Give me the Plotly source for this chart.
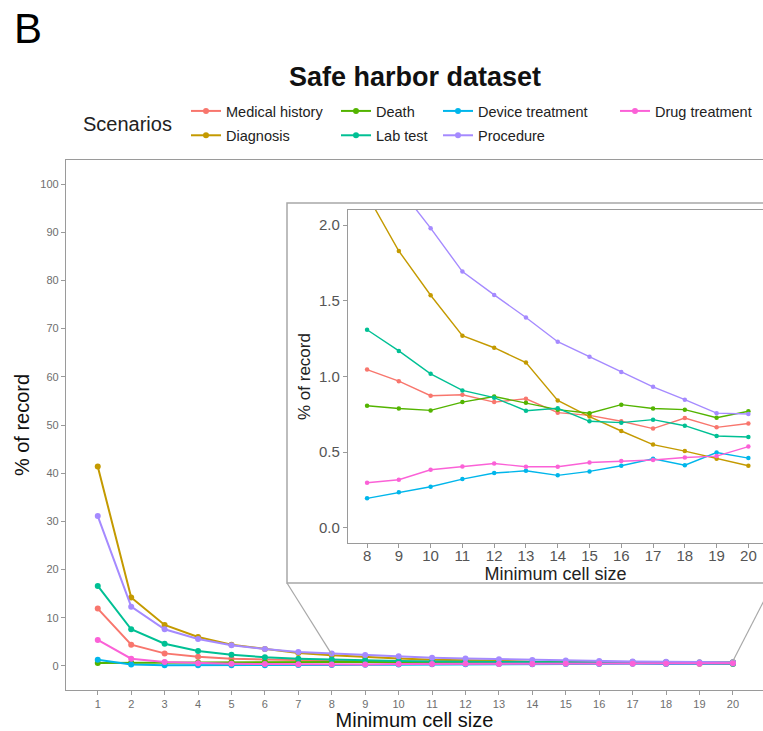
import plotly.graph_objects as go

cell_size = list(range(1, 21))
scenarios = ["Medical history", "Diagnosis", "Death", "Lab test",
             "Device treatment", "Procedure", "Drug treatment"]
colors = ["#F8766D", "#C49A00", "#53B400", "#00C094", "#00B6EB", "#A58AFF", "#FB61D7"]

medical_history = [11.9, 4.4, 2.6, 1.9, 1.5, 1.3, 1.15, 1.046, 0.969, 0.873, 0.879, 0.831,
                   0.853, 0.761, 0.743, 0.704, 0.656, 0.726, 0.664, 0.689]
diagnosis = [41.4, 14.2, 8.5, 6.0, 4.4, 3.5, 2.7, 2.2, 1.829, 1.537, 1.27, 1.19,
             1.092, 0.842, 0.735, 0.64, 0.55, 0.507, 0.456, 0.41]
death = [0.6, 0.65, 0.7, 0.72, 0.75, 0.78, 0.8, 0.807, 0.789, 0.776, 0.831, 0.868,
         0.827, 0.781, 0.757, 0.814, 0.789, 0.781, 0.728, 0.77]
lab_test = [16.6, 7.6, 4.6, 3.1, 2.3, 1.8, 1.5, 1.309, 1.169, 1.018, 0.908, 0.86,
            0.774, 0.79, 0.704, 0.695, 0.715, 0.675, 0.607, 0.60]
device_treatment = [1.3, 0.3, 0.15, 0.12, 0.13, 0.15, 0.17, 0.195, 0.235, 0.272, 0.322, 0.362,
                    0.377, 0.347, 0.373, 0.41, 0.456, 0.414, 0.498, 0.461]
procedure = [31.1, 12.3, 7.6, 5.6, 4.3, 3.5, 2.9, 2.6, 2.25, 1.98, 1.693, 1.539,
             1.39, 1.23, 1.13, 1.029, 0.932, 0.847, 0.758, 0.752]
drug_treatment = [5.4, 1.5, 0.8, 0.55, 0.45, 0.38, 0.33, 0.298, 0.318, 0.384, 0.406, 0.425,
                  0.404, 0.404, 0.432, 0.441, 0.448, 0.465, 0.474, 0.537]

series = [medical_history, diagnosis, death, lab_test, device_treatment, procedure, drug_treatment]
legend_ids = ["legend", "legend", "legend2", "legend2", "legend3", "legend3", "legend4"]

main_y_ticks = list(range(0, 101, 10))
inset_start = 8
inset_y_ticks = [0.0, 0.5, 1.0, 1.5, 2.0]

FONT = "Liberation Sans, Arial, Helvetica, sans-serif"
AXIS_GREY = "#9a9a9a"
TICK_GREY = "#6e6e6e"

W, H = 763, 731
ML, MR, MT, MB = 66, 0, 160, 41
PW, PH = W - ML - MR, H - MT - MB

def px_x(p):
    return (p - ML) / PW

def px_y(p):
    return (H - MB - p) / PH

x_range = [0.05, 20.9]
y_range = [-5, 105]
x2_range = [7.4, 20.46]
y2_range = [-0.1, 2.1]

fig = go.Figure()

for name, vals, col, lg in zip(scenarios, series, colors, legend_ids):
    fig.add_trace(go.Scatter(
        x=cell_size, y=vals, name=name, mode="lines+markers",
        line=dict(color=col, width=2), marker=dict(color=col, size=6),
        legend=lg, legendgroup=name, xaxis="x", yaxis="y"))

for name, vals, col in zip(scenarios, series, colors):
    xs = [c for c in cell_size if c >= inset_start]
    ys = [v for c, v in zip(cell_size, vals) if c >= inset_start]
    fig.add_trace(go.Scatter(
        x=xs, y=ys, name=name, mode="lines+markers", showlegend=False,
        line=dict(color=col, width=1.4), marker=dict(color=col, size=4.5),
        xaxis="x2", yaxis="y2"))

# inset frame and connectors
box_x0, box_x1 = px_x(287), px_x(773)
box_y0, box_y1 = px_y(583), px_y(203)

def data_to_paper_x(v):
    return (v - x_range[0]) / (x_range[1] - x_range[0])

def data_to_paper_y(v):
    return (v - y_range[0]) / (y_range[1] - y_range[0])

shapes = [
    dict(type="rect", xref="paper", yref="paper", x0=box_x0, x1=box_x1, y0=box_y0, y1=box_y1,
         line=dict(color="#a8a8a8", width=1.5), fillcolor="white", layer="below"),
    dict(type="line", xref="paper", yref="paper",
         x0=data_to_paper_x(8), y0=data_to_paper_y(2.4), x1=box_x0, y1=box_y0,
         line=dict(color="#a8a8a8", width=1.2)),
    dict(type="line", xref="paper", yref="paper",
         x0=data_to_paper_x(20), y0=data_to_paper_y(1.0), x1=box_x1, y1=box_y0,
         line=dict(color="#a8a8a8", width=1.2)),
]

legend_common = dict(orientation="v", xanchor="left", yanchor="top", y=px_y(95),
                     bgcolor="rgba(0,0,0,0)", font=dict(family=FONT, size=14.5, color="#222"),
                     tracegroupgap=2.5, itemwidth=30, xref="paper", yref="paper")

fig.update_layout(
    width=W, height=H,
    margin=dict(l=ML, r=MR, t=MT, b=MB),
    paper_bgcolor="white", plot_bgcolor="white",
    font=dict(family=FONT),
    hovermode=False,
    title=dict(text="<b>Safe harbor dataset</b>", x=415 / W, xanchor="center",
               xref="container", yref="container", y=(H - 77) / H, yanchor="middle",
               font=dict(family=FONT, size=27, color="#111")),
    legend=dict(x=px_x(186), **legend_common),
    legend2=dict(x=px_x(336), **legend_common),
    legend3=dict(x=px_x(438), **legend_common),
    legend4=dict(x=px_x(615), **legend_common),
    shapes=shapes,
    xaxis=dict(domain=[0, 1], range=x_range, tickvals=cell_size, showgrid=False, zeroline=False,
               showline=True, linecolor=AXIS_GREY, linewidth=1.2, mirror=True,
               ticks="outside", ticklen=4, tickcolor=AXIS_GREY,
               tickfont=dict(family=FONT, size=11, color=TICK_GREY),
               title=dict(text="Minimum cell size", standoff=4,
                          font=dict(family=FONT, size=20, color="#111"))),
    yaxis=dict(domain=[0, 1], range=y_range, tickvals=main_y_ticks, showgrid=False, zeroline=False,
               showline=True, linecolor=AXIS_GREY, linewidth=1.2,
               ticks="outside", ticklen=4, tickcolor=AXIS_GREY,
               tickfont=dict(family=FONT, size=11, color=TICK_GREY),
               title=dict(text="% of record", standoff=5,
                          font=dict(family=FONT, size=20, color="#111"))),
    xaxis2=dict(domain=[px_x(348), 1.0], anchor="y2", range=x2_range,
                tickvals=[c for c in cell_size if c >= inset_start],
                showgrid=False, zeroline=False, showline=True, linecolor=AXIS_GREY,
                linewidth=1.2, mirror=True, ticks="outside", ticklen=4, tickcolor=AXIS_GREY,
                ticklabelstandoff=-5,
                tickfont=dict(family=FONT, size=15, color="#555"),
                title=dict(text="Minimum cell size", standoff=2,
                           font=dict(family=FONT, size=18, color="#222"))),
    yaxis2=dict(domain=[px_y(543), px_y(210)], anchor="x2", range=y2_range,
                tickvals=inset_y_ticks, tickformat=".1f",
                showgrid=False, zeroline=False, showline=True, linecolor=AXIS_GREY,
                linewidth=1.2, ticks="outside", ticklen=4, tickcolor=AXIS_GREY,
                tickfont=dict(family=FONT, size=15, color="#555"),
                title=dict(text="% of record", standoff=4,
                           font=dict(family=FONT, size=17, color="#222"))),
    annotations=[
        dict(text="B", xref="paper", yref="paper", x=px_x(12), y=px_y(29),
             xanchor="left", yanchor="middle", showarrow=False,
             font=dict(family=FONT, size=42, color="#000")),
        dict(text="Scenarios", xref="paper", yref="paper", x=px_x(81), y=px_y(124),
             xanchor="left", yanchor="middle", showarrow=False,
             font=dict(family=FONT, size=20, color="#222")),
    ],
)

fig.write_html(
    "out.html",
    config={"displayModeBar": False},
    post_script="document.body.style.margin='0';document.body.style.overflow='hidden';",
)
